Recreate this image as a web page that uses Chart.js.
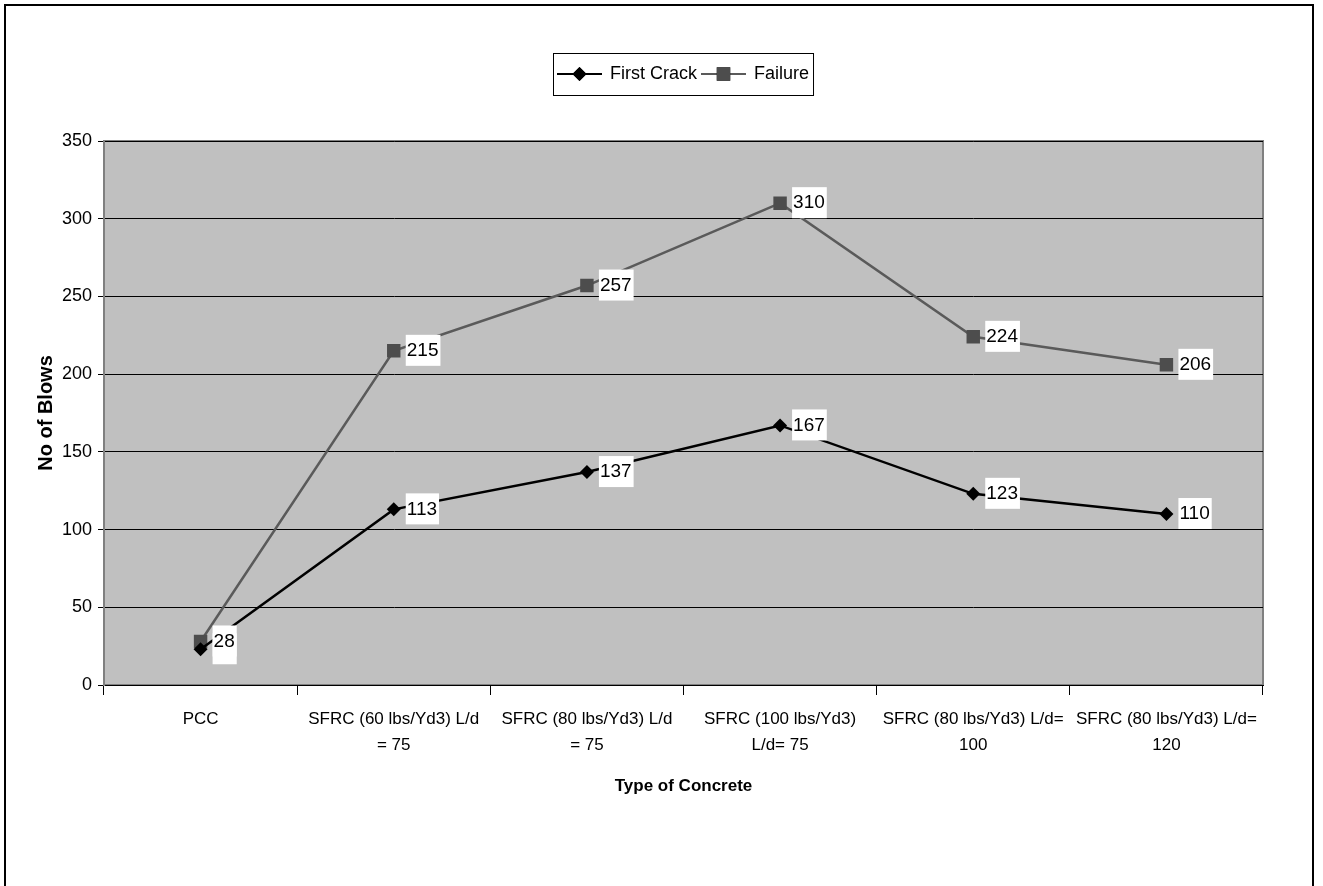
<!DOCTYPE html>
<html>
<head>
<meta charset="utf-8">
<script src="https://cdn.jsdelivr.net/npm/chart.js@4/dist/chart.umd.min.js"></script>
<style>
  html, body { margin: 0; padding: 0; background: #fff; }
  #frame {
    position: absolute; left: 4px; top: 4px; width: 1310px; height: 900px;
    border: 2px solid #000; box-sizing: border-box;
  }
  #wrap { position: absolute; left: 0; top: 0; width: 1323px; height: 886px; }
</style>
</head>
<body>
<div id="frame"></div>
<div id="wrap"><canvas id="blowsChart" width="1323" height="886"></canvas></div>
<script>
// Chart data
const categories = [
    'PCC',
    ['SFRC (60 lbs/Yd3) L/d', '= 75'],
    ['SFRC (80 lbs/Yd3) L/d', '= 75'],
    ['SFRC (100 lbs/Yd3)', 'L/d= 75'],
    ['SFRC (80 lbs/Yd3) L/d=', '100'],
    ['SFRC (80 lbs/Yd3) L/d=', '120']
];
const firstCrack = [23, 113, 137, 167, 123, 110];
const failure = [28, 215, 257, 310, 224, 206];
const yTicks = [0, 50, 100, 150, 200, 250, 300, 350];

const FONT = '"Liberation Sans", Arial, sans-serif';

// Grey plot background with border
const plotBackground = {
    id: 'plotBackground',
    beforeDraw(chart) {
        const { ctx, chartArea: a } = chart;
        ctx.save();
        ctx.fillStyle = '#c0c0c0';
        ctx.fillRect(a.left, a.top, a.right - a.left, a.bottom - a.top);
        ctx.strokeStyle = '#808080';
        ctx.lineWidth = 2;
        ctx.strokeRect(a.left, a.top, a.right - a.left, a.bottom - a.top);
        ctx.restore();
    }
};

// Value labels with white boxes
const valueLabels = {
    id: 'valueLabels',
    afterDatasetsDraw(chart) {
        const ctx = chart.ctx;
        ctx.save();
        ctx.font = '19px ' + FONT;
        ctx.textBaseline = 'middle';
        chart.data.datasets.forEach((ds, i) => {
            chart.getDatasetMeta(i).data.forEach((pt, j) => {
                const txt = String(ds.data[j]);
                const w = ctx.measureText(txt).width;
                ctx.fillStyle = '#fff';
                ctx.fillRect(pt.x + 12, pt.y - 16, w + 3, 31);
                ctx.fillStyle = '#000';
                ctx.fillText(txt, pt.x + 13, pt.y);
            });
        });
        ctx.restore();
    }
};

// Boxed legend above the plot
const boxLegend = {
    id: 'boxLegend',
    afterDraw(chart) {
        const ctx = chart.ctx;
        const a = chart.chartArea;
        ctx.save();
        ctx.font = '18px ' + FONT;
        ctx.textBaseline = 'middle';
        const items = chart.data.datasets.map(ds => ({
            ds, w: ctx.measureText(ds.label).width
        }));
        const seg = 45;
        let total = 4;
        items.forEach(it => { total += seg + 8 + it.w + 4; });
        const cx = (a.left + a.right) / 2;
        const left = Math.round(cx - total / 2);
        const top = 53, h = 42, cy = top + h / 2;
        ctx.strokeStyle = '#000';
        ctx.lineWidth = 1;
        ctx.strokeRect(left + 0.5, top + 0.5, total, h);
        let x = left + 4;
        items.forEach(it => {
            const ds = it.ds;
            ctx.strokeStyle = ds.borderColor;
            ctx.lineWidth = 2;
            ctx.beginPath();
            ctx.moveTo(x, cy);
            ctx.lineTo(x + seg, cy);
            ctx.stroke();
            Chart.helpers.drawPoint(ctx, {
                pointStyle: ds.pointStyle, radius: ds.pointRadius, borderWidth: 0
            }, x + seg / 2, cy);
            ctx.fillStyle = ds.pointBackgroundColor;
            ctx.fill();
            ctx.fillStyle = '#000';
            ctx.fillText(ds.label, x + seg + 8, cy);
            x += seg + 8 + it.w + 4;
        });
        ctx.restore();
    }
};

new Chart(document.getElementById('blowsChart'), {
    type: 'line',
    data: {
        labels: categories,
        datasets: [{
            label: 'First Crack',
            data: firstCrack,
            borderColor: '#000000',
            backgroundColor: '#000000',
            pointBackgroundColor: '#000000',
            pointBorderColor: '#000000',
            borderWidth: 2.5,
            pointStyle: 'rectRot',
            pointRadius: 7,
            pointBorderWidth: 0,
            tension: 0
        }, {
            label: 'Failure',
            data: failure,
            borderColor: '#5a5a5a',
            backgroundColor: '#4d4d4d',
            pointBackgroundColor: '#4d4d4d',
            pointBorderColor: '#4d4d4d',
            borderWidth: 2.5,
            pointStyle: 'rect',
            pointRadius: 9.5,
            pointBorderWidth: 0,
            tension: 0
        }]
    },
    options: {
        responsive: false,
        animation: false,
        layout: { padding: { top: 141, right: 60, left: 0, bottom: 0 } },
        plugins: {
            legend: { display: false },
            tooltip: { enabled: false }
        },
        scales: {
            x: {
                type: 'category',
                offset: true,
                afterFit(scale) { scale.height = 201; },
                grid: {
                    offset: true,
                    drawOnChartArea: false,
                    color: '#000',
                    tickLength: 10
                },
                border: { color: '#000', width: 1 },
                ticks: {
                    maxRotation: 0,
                    autoSkip: false,
                    padding: 12,
                    color: '#000',
                    font: { family: FONT, size: 17, lineHeight: 1.5 }
                },
                title: {
                    display: true,
                    text: 'Type of Concrete',
                    color: '#000',
                    font: { family: FONT, size: 17, weight: 'bold' },
                    padding: { top: 0, bottom: 89 }
                }
            },
            y: {
                min: 0,
                max: 350,
                afterFit(scale) { scale.width = 104; },
                afterBuildTicks(scale) { scale.ticks = yTicks.map(v => ({ value: v })); },
                grid: {
                    color: '#000',
                    lineWidth: 1,
                    tickLength: 6
                },
                border: { color: '#808080', width: 2 },
                ticks: {
                    padding: 6,
                    color: '#000',
                    font: { family: FONT, size: 18 }
                },
                title: {
                    display: true,
                    text: 'No of Blows',
                    color: '#000',
                    font: { family: FONT, size: 20, weight: 'bold' },
                    padding: { top: 34, bottom: 0 }
                }
            }
        }
    },
    plugins: [plotBackground, valueLabels, boxLegend]
});
</script>
</body>
</html>
